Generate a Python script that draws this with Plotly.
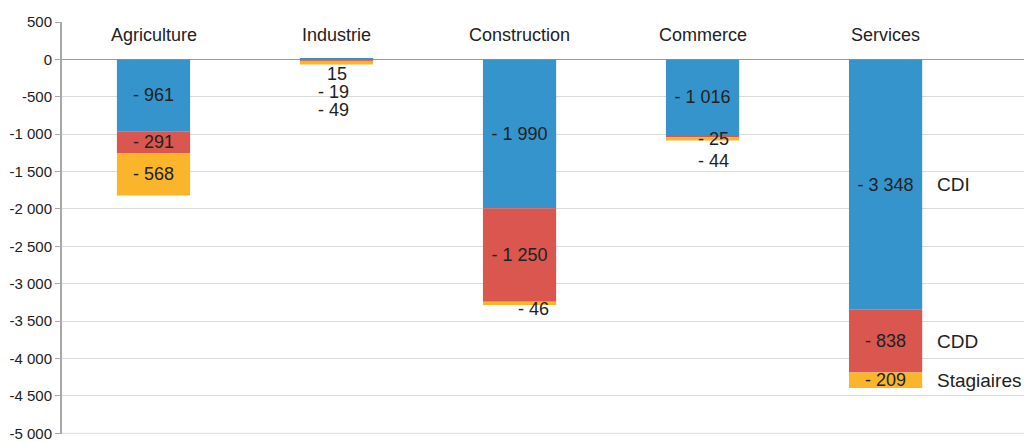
import plotly.graph_objects as go

categories = ['Agriculture', 'Industrie', 'Construction', 'Commerce', 'Services']
cdi = [-961, 15, -1990, -1016, -3348]
cdd = [-291, -19, -1250, -25, -838]
stagiaires = [-568, -49, -46, -44, -209]
series_names = ['CDI', 'CDD', 'Stagiaires']
y_ticks = list(range(500, -5001, -500))

COLORS = {'CDI': '#3594cc', 'CDD': '#d9574f', 'Stagiaires': '#fbb52b'}
FONT = 'Liberation Sans, Arial, sans-serif'
TXT = '#222222'
GRID = '#dcdcdc'

# hand-placed labels for the thin segments (yshift, xshift in px)
SMALL_SHIFT = {
    (1, 0): (-15, 0), (1, 1): (-32, -3), (1, 2): (-47, -3),
    (3, 1): (-3, 11), (3, 2): (-22, 11),
    (2, 2): (-6, 14),
}


def fmt(v):
    s = f'{abs(v):,}'.replace(',', ' ')
    return f'- {s}' if v < 0 else s


fig = go.Figure()
data = [cdi, cdd, stagiaires]
for name, vals in zip(series_names, data):
    fig.add_trace(go.Bar(
        x=categories, y=vals, name=name,
        marker_color=COLORS[name], marker_line_width=0,
        width=0.4,
        text=[fmt(v) if abs(v) >= 200 else '' for v in vals],
        textposition='inside', insidetextanchor='middle',
        constraintext='none',
        textfont=dict(size=18, color=TXT, family=FONT),
        hoverinfo='skip',
    ))

annotations = []
# segment centres for small labels and right-side series names
for i, cat in enumerate(categories):
    neg = 0
    pos = 0
    for s, vals in enumerate(data):
        v = vals[i]
        if v >= 0:
            centre = pos + v / 2
            pos += v
        else:
            centre = neg + v / 2
            neg += v
        if abs(v) < 200:
            ys, xs = SMALL_SHIFT.get((i, s), (-10, 0))
            annotations.append(dict(
                x=cat, y=centre, text=fmt(v), showarrow=False,
                yshift=ys, xshift=xs,
                font=dict(size=18, color=TXT, family=FONT),
            ))
        if i == len(categories) - 1:
            annotations.append(dict(
                x=cat, y=centre, text=series_names[s], showarrow=False,
                xanchor='left', xshift=49,
                font=dict(size=19, color=TXT, family=FONT),
            ))
    annotations.append(dict(
        x=cat, y=320, text=cat, showarrow=False,
        font=dict(size=18, color=TXT, family=FONT),
    ))

# bottom gridline sits on the range edge and plotly skips it
fig.add_hline(y=y_ticks[-1], line_color=GRID, line_width=1, layer='below')

# the page body adds an 8px margin, so the figure is made 8px smaller
fig.update_layout(
    barmode='relative',
    width=1024, height=433,
    margin=dict(l=54, r=0, t=14, b=7),
    paper_bgcolor='white', plot_bgcolor='white',
    showlegend=False,
    annotations=annotations,
    font=dict(family=FONT, color=TXT),
    xaxis=dict(
        range=[-0.5, 4.8], showticklabels=False, showgrid=False,
        zeroline=False, ticks='',
    ),
    yaxis=dict(
        range=[-5010, 500],
        tickvals=y_ticks,
        ticktext=[f'{v:,}'.replace(',', ' ') for v in y_ticks],
        ticklabeloverflow='allow',
        showgrid=True, gridcolor=GRID, gridwidth=1,
        zeroline=True, zerolinecolor='#9a9a9a', zerolinewidth=1,
        showline=True, linecolor='#a8a8a8', linewidth=2,
        ticks='outside', ticklen=5, tickcolor='#a8a8a8',
        tickfont=dict(size=15, color=TXT, family=FONT),
    ),
)

fig.write_html('out.html')
